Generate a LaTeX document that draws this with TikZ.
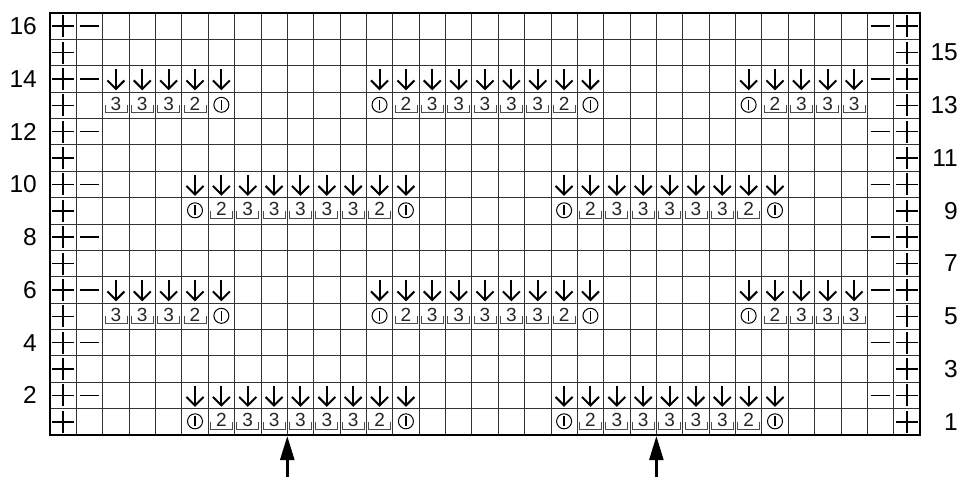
\documentclass[tikz,border=0pt]{standalone}
\usepackage{fontspec}
\setmainfont{Liberation Sans}
\usetikzlibrary{arrows.meta}
\tikzset{
  gridline/.style={line width=0.8pt, black!80},
  frameline/.style={line width=2.2pt, black},
  symline/.style={line width=1.4pt, black},
  arrowline/.style={line width=2pt, black, line join=miter},
  bracketline/.style={line width=0.8pt, black!70},
  numtext/.style={font=\fontsize{19}{19}\selectfont, inner sep=0pt, text=black!85},
  rowlabel/.style={font=\fontsize{24.5}{24.5}\selectfont, inner sep=0pt},
  uparrow/.style={line width=2.5pt, black, -{Triangle[length=24pt,width=14pt]}},
  pics/dn/.style={code={
    \draw[arrowline] (0pt,9.5pt) -- (0pt,-10pt);
    \draw[arrowline] (-8.5pt,-1.5pt) -- (0pt,-10pt) -- (8.5pt,-1.5pt);
  }},
  pics/one/.style={code={
    \draw[line width=1pt] (0pt,0.5pt) circle (7.5pt);
    \draw[line width=1.3pt] (0pt,-4.5pt) -- (0pt,5.5pt);
  }},
  pics/num/.style={code={
    \node[numtext, anchor=base] at (0pt,-5pt) {#1};
    \draw[bracketline] (-11pt,0pt) -- (-11pt,-7.5pt) -- (11pt,-7.5pt) -- (11pt,0pt);
  }},
  pics/plus/.style={code={
    \draw[symline] (-11pt,0pt) -- (11pt,0pt) (0pt,-11pt) -- (0pt,11pt);
  }},
  pics/minus/.style={code={
    \draw[symline] (-9.5pt,0pt) -- (9.5pt,0pt);
  }}
}
\begin{document}
\begin{tikzpicture}[x=26.3636pt, y=26.375pt]
\useasboundingbox (-1.8966,-1.5924) rectangle (34.5172,16.4929);
\fill[white] (-1.8966,-1.5924) rectangle (34.5172,16.4929);
% grid
\foreach \c in {1,...,32} { \draw[gridline] (\c,0) -- (\c,16); }
\foreach \r in {1,...,15} { \draw[gridline] (0,\r) -- (33,\r); }
% edge columns
\foreach \r in {1,...,16} {
  \pic at (0.5,\r-0.5) {plus};
  \pic at (32.5,\r-0.5) {plus};
}
\foreach \r in {2,4,...,16} {
  \pic at (1.5,\r-0.5) {minus};
  \pic at (31.5,\r-0.5) {minus};
}
% type A rows (1 and 9) with arrows above (2 and 10)
\foreach \r in {1,9} {
  \foreach \s in {6,20} {
    \pic at (\s-0.5,\r-0.5) {one};
    \pic at (\s+0.5,\r-0.5) {num=2};
    \foreach \k in {2,...,6} { \pic at (\s+\k-0.5,\r-0.5) {num=3}; }
    \pic at (\s+6.5,\r-0.5) {num=2};
    \pic at (\s+7.5,\r-0.5) {one};
    \foreach \k in {0,...,8} { \pic at (\s+\k-0.5,\r+0.5) {dn}; }
  }
}
% type B rows (5 and 13) with arrows above (6 and 14)
\foreach \r in {5,13} {
  \foreach \c in {3,4,5} { \pic at (\c-0.5,\r-0.5) {num=3}; }
  \pic at (5.5,\r-0.5) {num=2};
  \pic at (6.5,\r-0.5) {one};
  \pic at (12.5,\r-0.5) {one};
  \pic at (13.5,\r-0.5) {num=2};
  \foreach \c in {15,...,19} { \pic at (\c-0.5,\r-0.5) {num=3}; }
  \pic at (19.5,\r-0.5) {num=2};
  \pic at (20.5,\r-0.5) {one};
  \pic at (26.5,\r-0.5) {one};
  \pic at (27.5,\r-0.5) {num=2};
  \foreach \c in {29,30,31} { \pic at (\c-0.5,\r-0.5) {num=3}; }
  \foreach \c in {3,...,7,13,14,15,16,17,18,19,20,21,27,28,29,30,31} { \pic at (\c-0.5,\r+0.5) {dn}; }
}
% frame
\draw[frameline] (0,0) rectangle (33,16);
% row labels
\foreach \r in {2,4,...,16} {
  \node[rowlabel, anchor=east] (left\r) at ([xshift=-13pt]0,\r-0.5) {\r};
}
\foreach \r in {1,3,...,15} {
  \node[rowlabel, anchor=east] (right\r) at ([xshift=38pt]33,\r-0.5) {\r};
}
% bottom arrows
\coordinate (foot1) at (9,-1.5924);
\coordinate (head1) at (9,-0.04);
\coordinate (foot2) at (23,-1.5924);
\coordinate (head2) at (23,-0.04);
\draw[uparrow] (foot1) -- (head1);
\draw[uparrow] (foot2) -- (head2);
\end{tikzpicture}
\end{document}
